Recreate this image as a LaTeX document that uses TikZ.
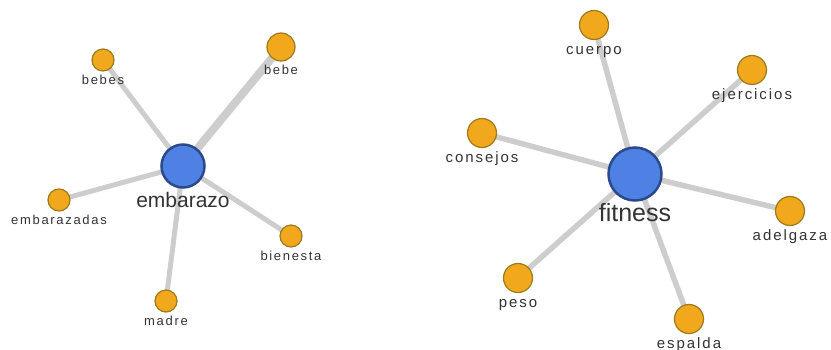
\documentclass[tikz,border=0pt]{standalone}
\usepackage{fontspec}
\usetikzlibrary{backgrounds}
\setmainfont{Liberation Sans}
\newfontfamily\labfont[LetterSpace=13]{Liberation Sans}
\definecolor{hubfill}{HTML}{4F81E4}
\definecolor{hubline}{HTML}{2B4A8C}
\definecolor{leaffill}{HTML}{F2A81C}
\definecolor{leafline}{HTML}{9C7A1C}
\definecolor{linkgray}{HTML}{CDCDCD}
\definecolor{labtext}{HTML}{333333}

\begin{document}
\begin{tikzpicture}[x=1pt,y=-1pt,
 hub/.style={circle,draw=hubline,fill=hubfill,line width=2.5pt,inner sep=0pt},
 leaf/.style={circle,draw=leafline,fill=leaffill,line width=1.2pt,inner sep=0pt},
 lab/.style={text=labtext,inner sep=0pt},
 small/.style={lab,font=\labfont\fontsize{13}{15}\selectfont,text height=9.4pt,text depth=2.8pt},
 mid/.style={lab,font=\labfont\fontsize{15}{17}\selectfont,text height=10.8pt,text depth=3.2pt},
 big/.style={lab,font=\fontsize{#1}{#1}\selectfont,text height=.72*#1pt,text depth=.2*#1pt},
 link/.style={draw=linkgray,line width=5pt}]
\useasboundingbox (0,0) rectangle (831,349);
% embarazo
\node[hub,minimum size=43pt,label={[big=21,label distance=3pt]below:embarazo}] (emb) at (183,166) {};
\node[leaf,minimum size=22pt,label={[small,label distance=3pt]below:bebes}] (bebes) at (103,60) {};
\node[leaf,minimum size=28pt,label={[small,label distance=3pt]below:bebe}] (bebe) at (281,47) {};
\node[leaf,minimum size=22pt,label={[small,label distance=3pt]below:embarazadas}] (embz) at (59,200) {};
\node[leaf,minimum size=22pt,label={[small,label distance=3pt]below:bienesta}] (bien) at (291,236) {};
\node[leaf,minimum size=22pt,label={[small,label distance=3pt]below:madre}] (madre) at (166,301) {};
% fitness
\node[hub,minimum size=53pt,label={[big=25,label distance=2pt]below:fitness}] (fit) at (635,174) {};
\node[leaf,minimum size=29pt,label={[mid,label distance=3pt]below:cuerpo}] (cuerpo) at (594,25) {};
\node[leaf,minimum size=29pt,label={[mid,label distance=3pt]below:ejercicios}] (ejer) at (752,70) {};
\node[leaf,minimum size=29pt,label={[mid,label distance=3pt]below:consejos}] (cons) at (482,133) {};
\node[leaf,minimum size=29pt,label={[mid,label distance=3pt]below:adelgaza}] (adel) at (790,211) {};
\node[leaf,minimum size=29pt,label={[mid,label distance=3pt]below:peso}] (peso) at (518,278) {};
\node[leaf,minimum size=29pt,label={[mid,label distance=3pt]below:espalda}] (esp) at (689,319) {};
\begin{scope}[on background layer]
\foreach \x/\y in {emb/bebes,emb/embz,emb/bien,emb/madre}
 \draw[link] (\x.center)--(\y.center);
\foreach \y in {cuerpo,ejer,cons,adel,peso,esp}
 \draw[link,line width=5.5pt] (fit.center)--(\y.center);
\draw[link,line width=8pt] (emb.center)--(bebe.center);
\end{scope}
\end{tikzpicture}
\end{document}
